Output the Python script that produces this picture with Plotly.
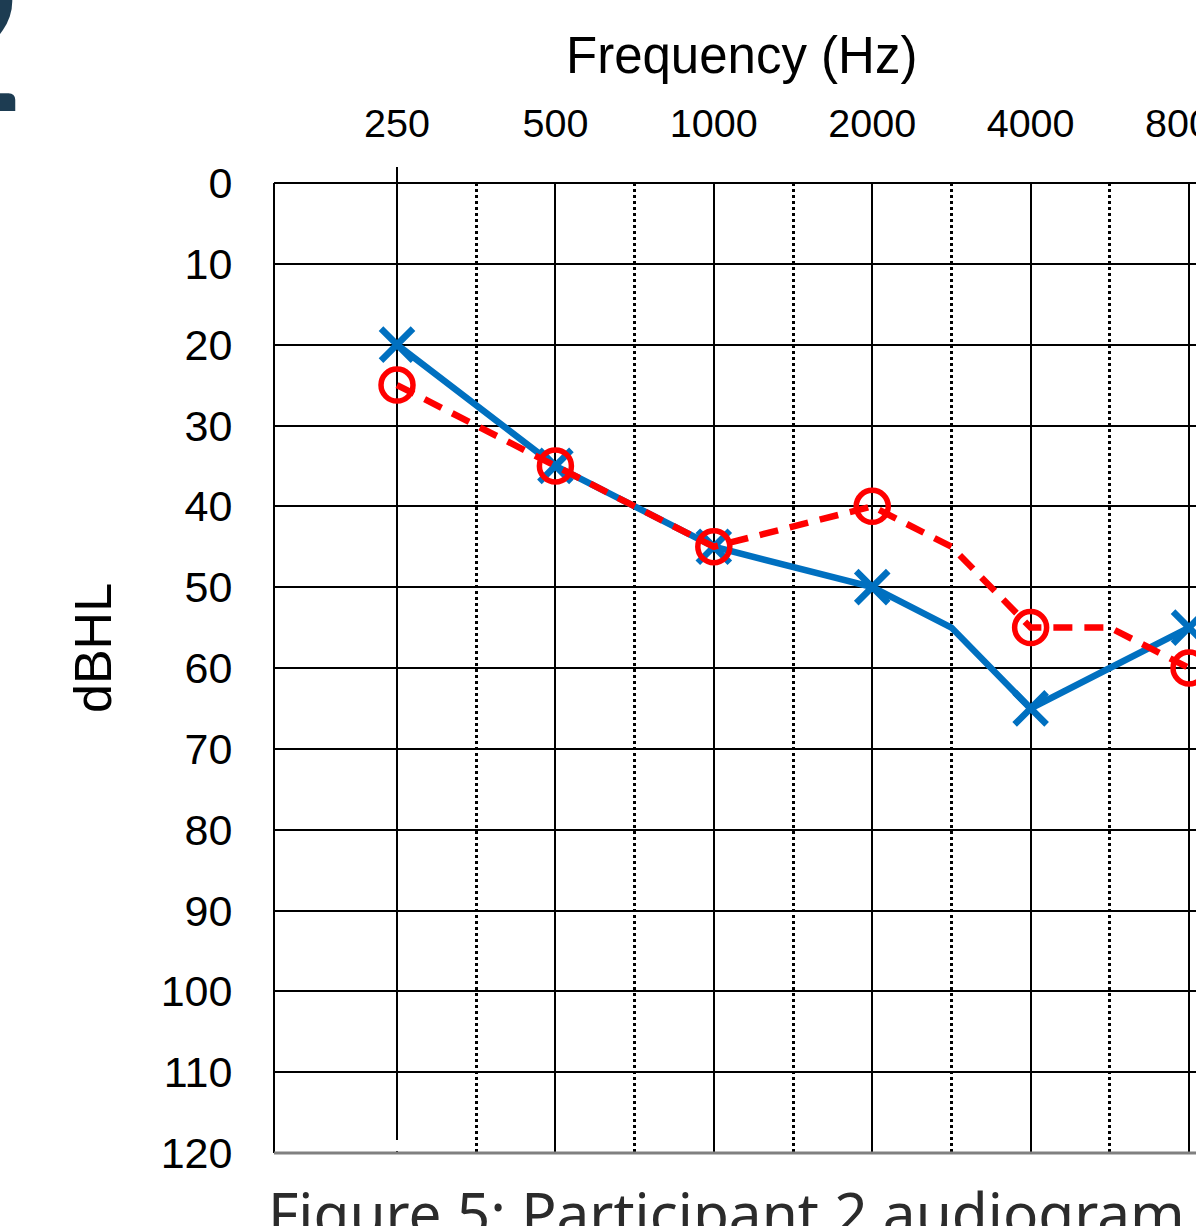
import plotly.graph_objects as go

# ---- data ----
grid_freqs = [250, 375, 500, 750, 1000, 1500, 2000, 3000, 4000, 6000, 8000]
tick_freqs = [250, 500, 1000, 2000, 4000, 8000]
tick_labels = ["250", "500", "1000", "2000", "4000", "8000"]
half_freqs = [375, 750, 1500, 3000, 6000]

test_freqs = [250, 500, 1000, 2000, 3000, 4000, 6000, 8000]
right_ear = [20, 35, 45, 50, 55, 65, 60, 55]   # blue X
left_ear = [25, 35, 45, 40, 45, 55, 55, 60]    # red O

db_ticks = list(range(0, 121, 10))


def slot(f):
    return grid_freqs.index(f)


xs = [slot(f) for f in test_freqs]
marker_on = [f in tick_freqs for f in test_freqs]

BLUE = "#0070C0"
RED = "#FF0000"
FONT = "Liberation Sans, Arial, sans-serif"

fig = go.Figure()

fig.add_trace(go.Scatter(
    x=xs, y=right_ear, mode="lines+markers",
    line=dict(color=BLUE, width=6.5),
    marker=dict(symbol="x-thin-open", size=[32 if m else 0 for m in marker_on],
                line=dict(color=BLUE, width=6.5), color=BLUE, opacity=1),
    showlegend=False, cliponaxis=False,
))
fig.add_trace(go.Scatter(
    x=xs, y=left_ear, mode="lines+markers",
    line=dict(color=RED, width=6.5, dash="19px,12px"),
    marker=dict(symbol="circle-open", size=[32 if m else 0 for m in marker_on],
                line=dict(color=RED, width=5.5), color=RED, opacity=1),
    showlegend=False, cliponaxis=False,
))

L, T, W, H = 274, 183, 1196, 1226
PW = W - L
PH = 1153 - T


def px_x(p):
    return (p - L) / PW


def px_y(p):
    return (1153 - p) / PH


fig.update_layout(
    width=W, height=H,
    margin=dict(l=L, r=0, t=T, b=H - 1153, pad=0, autoexpand=False),
    paper_bgcolor="white", plot_bgcolor="white",
    font=dict(family=FONT, color="black"),
    xaxis=dict(
        side="top", range=[-1.553, 10.088], type="linear", automargin=False,
        tickmode="array", tickvals=[slot(f) for f in tick_freqs], ticktext=tick_labels,
        showgrid=True, gridcolor="black", gridwidth=1.5,
        ticks="outside", ticklen=29, tickcolor="rgba(0,0,0,0)",
        tickfont=dict(size=39.5, family=FONT, color="black"),
        ticklabeloverflow="allow",
        zeroline=False, showline=False,
        minor=dict(tickmode="array", tickvals=[slot(f) for f in half_freqs],
                   showgrid=True, gridcolor="black", gridwidth=3, griddash="dot",
                   ticks=""),
    ),
    yaxis=dict(
        range=[120, 0], tickmode="array", tickvals=db_ticks, automargin=False,
        ticktext=[str(v) for v in db_ticks],
        showgrid=True, gridcolor="black", gridwidth=1.5,
        ticks="outside", ticklen=32, tickcolor="rgba(0,0,0,0)",
        tickfont=dict(size=43, family=FONT, color="black"),
        zeroline=False, showline=False,
    ),
    shapes=[
        dict(type="line", xref="paper", yref="paper", x0=0, x1=1, y0=1, y1=1,
             line=dict(color="black", width=2)),
        dict(type="line", xref="paper", yref="paper", x0=0, x1=0, y0=0, y1=1,
             line=dict(color="black", width=2)),
        dict(type="line", xref="paper", yref="paper", x0=0, x1=1, y0=0, y1=0,
             line=dict(color="#808080", width=3)),
        dict(type="line", xref="x", yref="paper", x0=slot(250), x1=slot(250),
             y0=1, y1=px_y(167), line=dict(color="black", width=2)),
        dict(type="line", xref="x", yref="paper", x0=slot(250), x1=slot(250),
             y0=px_y(1140), y1=px_y(1151), line=dict(color="white", width=3),
             layer="above"),
    ],
    annotations=[
        dict(text="Frequency (Hz)", xref="paper", yref="paper",
             x=px_x(741), y=px_y(55), xanchor="center", yanchor="middle",
             showarrow=False, font=dict(size=51, family=FONT, color="black")),
        dict(text="dBHL", xref="paper", yref="paper", textangle=-90,
             x=px_x(93), y=px_y(648), xanchor="center", yanchor="middle",
             showarrow=False, font=dict(size=52, family=FONT, color="black")),
        dict(text="Figure 5: Participant 2 audiogram", xref="paper", yref="paper",
             x=px_x(266), y=px_y(1170), xanchor="left", yanchor="top",
             showarrow=False, font=dict(size=58.5, family="Noto Sans, sans-serif", color="#2b2b2b")),
        dict(text="2", xref="paper", yref="paper",
             x=px_x(29), y=px_y(158), xanchor="right", yanchor="bottom",
             showarrow=False, font=dict(size=210, family="Lato, sans-serif", color="#1d3c52")),
    ],
)

fig.write_html("out.html")
